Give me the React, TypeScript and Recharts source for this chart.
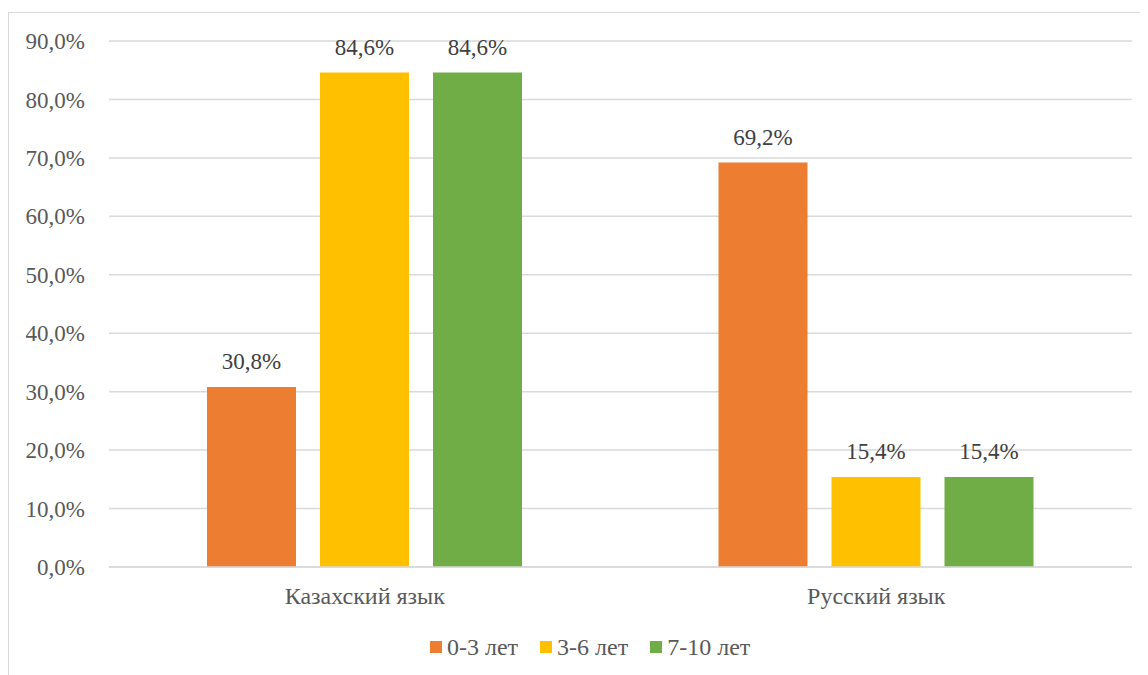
import { BarChart, Bar, XAxis, YAxis, CartesianGrid, Legend, LabelList } from 'recharts';

const categories = ['Казахский язык', 'Русский язык'];
const age0to3 = [30.8, 69.2];
const age3to6 = [84.6, 15.4];
const age7to10 = [84.6, 15.4];
const yTicks = [0, 10, 20, 30, 40, 50, 60, 70, 80, 90];

const SERIES = [
  { key: 'a', name: '0-3 лет', color: '#ED7D31' },
  { key: 'b', name: '3-6 лет', color: '#FFC000' },
  { key: 'c', name: '7-10 лет', color: '#70AD47' },
];

const data = categories.map((name, i) => ({
  name,
  a: age0to3[i],
  b: age3to6[i],
  c: age7to10[i],
}));

const FONT = '"Liberation Serif", "Times New Roman", serif';
const TEXT = '#595959';

const fmt = (v: number) => `${v.toFixed(1).replace('.', ',')}%`;

// legend sits left of the plot centre in the original
const LegendBox = () => (
  <div style={{ height: 40, display: 'flex', alignItems: 'center', gap: 22, paddingLeft: 421 }}>
    {SERIES.map((s) => (
      <div key={s.key} style={{ display: 'flex', alignItems: 'center', gap: 5 }}>
        <span style={{ width: 12, height: 12, background: s.color, display: 'inline-block' }} />
        <span style={{ fontFamily: FONT, fontSize: 24, color: TEXT }}>{s.name}</span>
      </div>
    ))}
  </div>
);

export default function App() {
  return (
    <div
      style={{
        marginTop: 4,
        width: 1160,
        height: 680,
        borderLeft: '1px solid #d9d9d9',
        borderTop: '1px solid #d9d9d9',
        background: '#fff',
        fontFamily: FONT,
      }}
    >
      <BarChart
        width={1140}
        height={662}
        data={data}
        margin={{ top: 28, right: 17, left: 0, bottom: 8 }}
        barCategoryGap={98}
        barGap={24}
      >
        <CartesianGrid vertical={false} stroke="#d9d9d9" strokeWidth={1.5} />
        <XAxis
          dataKey="name"
          height={60}
          axisLine={{ stroke: '#d9d9d9', strokeWidth: 1.5 }}
          tickLine={false}
          tickMargin={14}
          tick={{ fill: TEXT, fontFamily: FONT, fontSize: 24 }}
        />
        <YAxis
          width={100}
          domain={[0, 90]}
          ticks={yTicks}
          axisLine={false}
          tickLine={false}
          tickMargin={18}
          tickFormatter={fmt}
          tick={{ fill: TEXT, fontFamily: FONT, fontSize: 23 }}
        />
        <Legend verticalAlign="bottom" wrapperStyle={{ left: 0 }} content={<LegendBox />} />
        {SERIES.map((s) => (
          <Bar key={s.key} dataKey={s.key} name={s.name} fill={s.color} isAnimationActive={false}>
            <LabelList
              dataKey={s.key}
              position="top"
              offset={18}
              formatter={(v: any) => fmt(Number(v))}
              style={{ fill: '#404040', fontFamily: FONT, fontSize: 23 }}
            />
          </Bar>
        ))}
      </BarChart>
    </div>
  );
}
